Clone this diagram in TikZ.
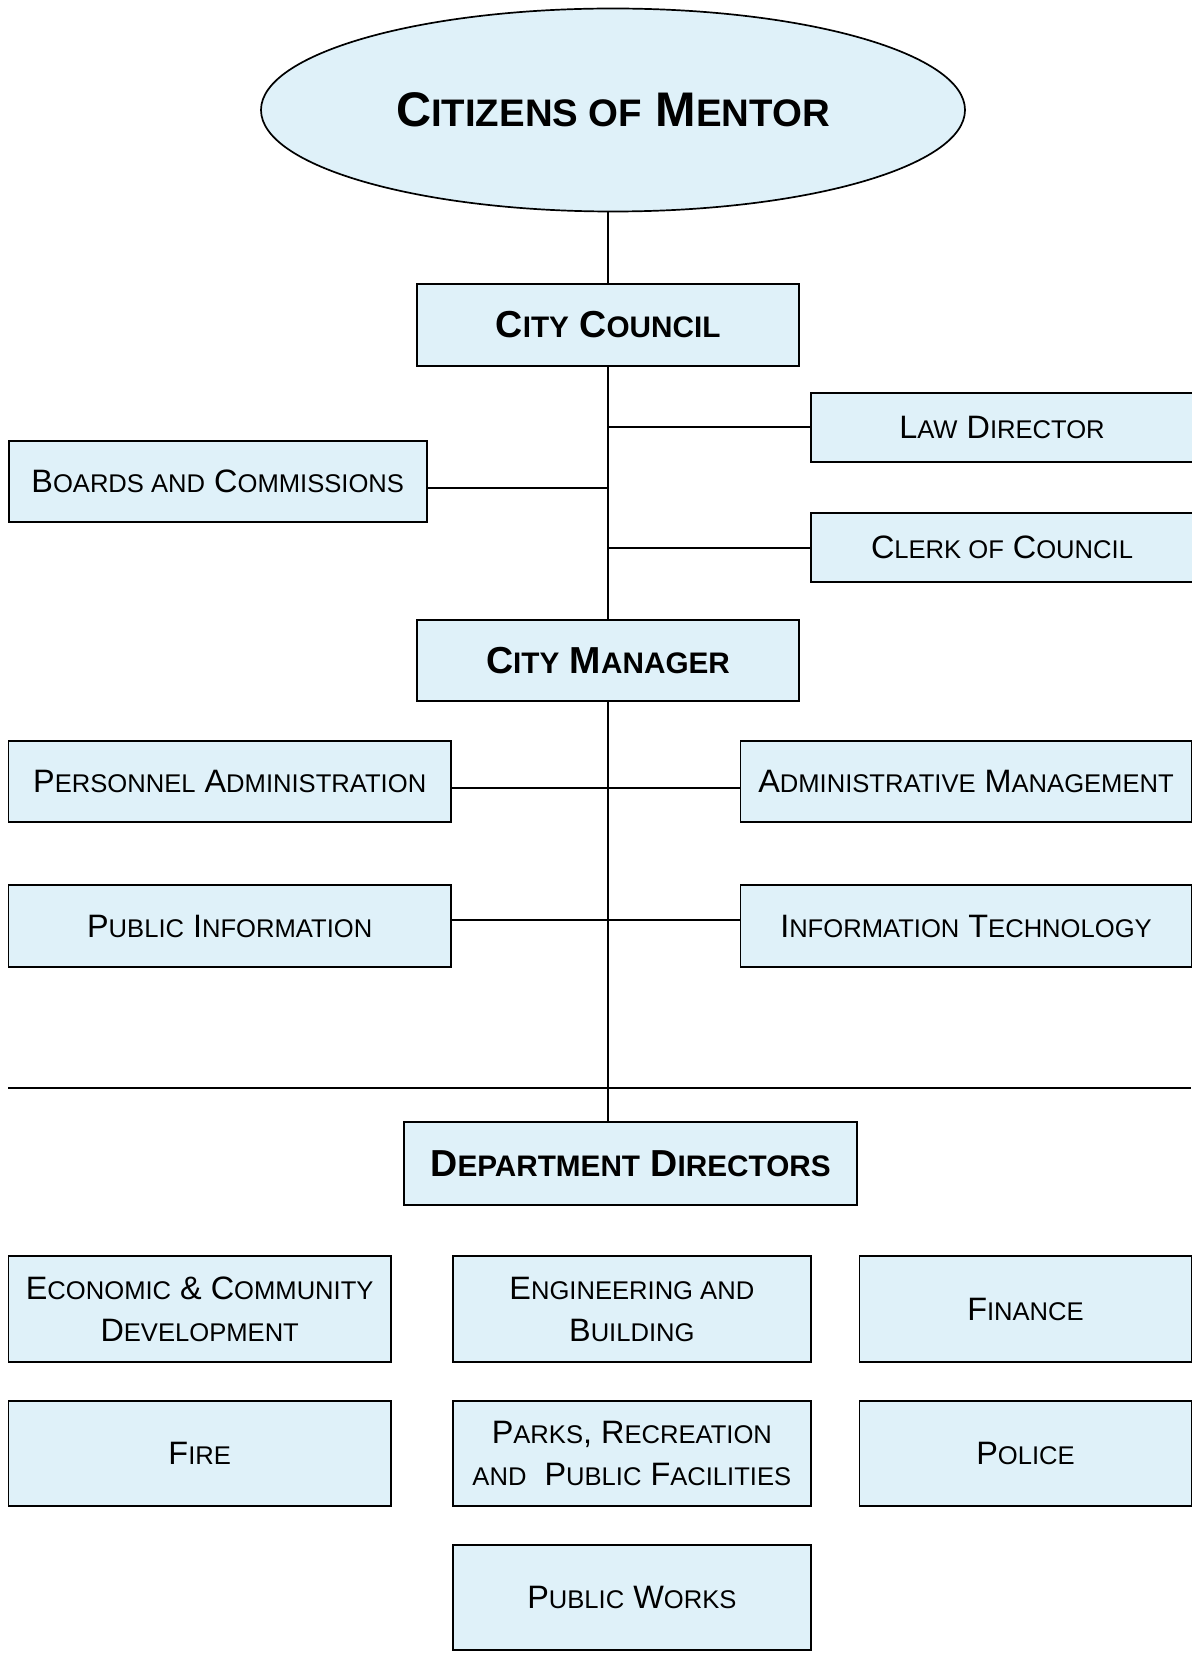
\documentclass[tikz,border=0pt]{standalone}
\usepackage{fontspec}
\setmainfont{Liberation Sans}
\usetikzlibrary{shapes.geometric}
\definecolor{boxfill}{RGB}{223,241,249}
\makeatletter
\newcommand\smc[1]{{\edef\smcsz{\strip@pt\dimexpr 0.79\dimexpr\f@size pt\relax\relax}\fontsize{\smcsz}{\f@baselineskip}\selectfont #1}}
\makeatother
\tikzset{
  box/.style={draw, line width=0.85pt, fill=boxfill, inner sep=0pt, outer sep=0pt,
    align=center, font=\fontsize{16.2}{21}\selectfont},
  boldbox/.style={box, font=\bfseries\fontsize{18.8}{23}\selectfont},
  link/.style={line width=0.85pt},
  divider/.style={line width=1pt}
}
\begin{document}
\begin{tikzpicture}[x=0.5pt, y=-0.5pt]
\useasboundingbox (0,0) rectangle (1191,1658);
% top ellipse
\node[ellipse, draw, line width=0.85pt, fill=boxfill, minimum width=352pt, minimum height=101.5pt,
  inner sep=0pt, outer sep=0pt, font=\bfseries\fontsize{24.3}{28}\selectfont] (cit) at (613,110)
  {C\smc{ITIZENS OF} M\smc{ENTOR}};
% council level
\node[boldbox, minimum width=191pt, minimum height=41pt] (cc) at (608,325) {C\smc{ITY} C\smc{OUNCIL}};
\node[box, minimum width=191pt, minimum height=34.5pt] (law) at (1002,427.5) {L\smc{AW} D\smc{IRECTOR}};
\node[box, minimum width=191pt, minimum height=34.5pt] (clerk) at (1002,547.5) {C\smc{LERK OF} C\smc{OUNCIL}};
\node[box, minimum width=209pt, minimum height=40.5pt] (boards) at (217.7,481.5) {B\smc{OARDS AND} C\smc{OMMISSIONS}};
% manager level
\node[boldbox, minimum width=191pt, minimum height=40.5pt] (cm) at (608,660.5) {C\smc{ITY} M\smc{ANAGER}};
\node[box, minimum width=221.3pt, minimum height=40.5pt] (pers) at (229.7,781.5) {P\smc{ERSONNEL} A\smc{DMINISTRATION}};
\node[box, minimum width=225.5pt, minimum height=40.5pt] (admin) at (966,781.5) {A\smc{DMINISTRATIVE} M\smc{ANAGEMENT}};
\node[box, minimum width=221.3pt, minimum height=41pt] (pubinfo) at (229.7,926) {P\smc{UBLIC} I\smc{NFORMATION}};
\node[box, minimum width=225.5pt, minimum height=41pt] (it) at (966,926) {I\smc{NFORMATION} T\smc{ECHNOLOGY}};
% departments
\node[boldbox, minimum width=226.5pt, minimum height=41.5pt] (dept) at (630.5,1163.5) {D\smc{EPARTMENT} D\smc{IRECTORS}};
\node[box, minimum width=191.3pt, minimum height=53pt] (econ) at (199.7,1309) {E\smc{CONOMIC} \& C\smc{OMMUNITY}\\ D\smc{EVELOPMENT}};
\node[box, minimum width=179.15pt, minimum height=53pt] (eng) at (631.85,1309) {E\smc{NGINEERING AND}\\ B\smc{UILDING}};
\node[box, minimum width=166pt, minimum height=53pt] (fin) at (1025.5,1309) {F\smc{INANCE}};
\node[box, minimum width=191.3pt, minimum height=52.5pt] (fire) at (199.7,1453.5) {F\smc{IRE}};
\node[box, minimum width=179.15pt, minimum height=52.5pt] (parks) at (631.85,1453.5) {P\smc{ARKS}, R\smc{ECREATION}\\ \smc{AND}~~P\smc{UBLIC} F\smc{ACILITIES}};
\node[box, minimum width=166pt, minimum height=52.5pt] (police) at (1025.5,1453.5) {P\smc{OLICE}};
\node[box, minimum width=179.15pt, minimum height=52.5pt] (pw) at (631.85,1597.5) {P\smc{UBLIC} W\smc{ORKS}};
% junction points on the trunk
\coordinate (jl) at (608,427.3);
\coordinate (jb) at (608,488);
\coordinate (jc) at (608,547.7);
\coordinate (jp) at (608,787.7);
\coordinate (ji) at (608,920);
\coordinate (dl) at (8.4,1087.7);
\coordinate (dr) at (1191,1087.7);
% trunk
\draw[link] (cc.north) -- (cc.north |- cit.south);
\draw[link] (cc.south) -- (cm.north);
\draw[link] (cm.south) -- (cm.south |- dept.north);
% branches
\draw[link] (jl) -- (law.west |- jl);
\draw[link] (jc) -- (clerk.west |- jc);
\draw[link] (boards.east |- jb) -- (jb);
\draw[link] (pers.east |- jp) -- (admin.west |- jp);
\draw[link] (pubinfo.east |- ji) -- (it.west |- ji);
% divider
\draw[divider] (dl) -- (dr);
\end{tikzpicture}
\end{document}
